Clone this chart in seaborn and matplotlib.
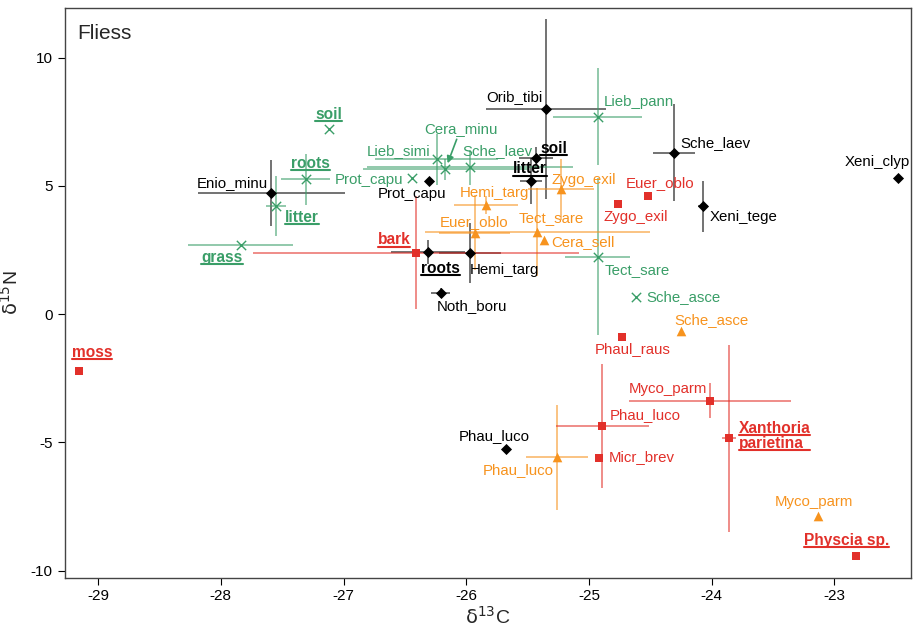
import matplotlib
matplotlib.use("Agg")
import matplotlib.pyplot as plt
from matplotlib.lines import Line2D
import seaborn as sns
import pandas as pd

# --- data (d13C, d15N, errors) per group ---
black_names = ["Orib_tibi", "soil", "litter", "Prot_capu", "Enio_minu", "roots",
               "Hemi_targ", "Noth_boru", "Sche_laev", "Xeni_tege", "Xeni_clyp", "Phau_luco"]
black_x = [-25.35, -25.43, -25.47, -26.30, -27.59, -26.31, -25.97, -26.21, -24.31, -24.07, -22.48, -25.68]
black_y = [8.00, 6.10, 5.19, 5.19, 4.72, 2.42, 2.37, 0.81, 6.30, 4.21, 5.30, -5.27]
black_xerr = [0.49, 0.14, 0.09, 0, 0.60, 0.30, 0.25, 0.08, 0.17, 0.04, 0, 0]
black_yerr = [3.5, 0.4, 0.9, 0, 1.3, 0.48, 1.17, 0.2, 1.9, 1.0, 0, 0]

green_names = ["soil", "roots", "litter", "grass", "Prot_capu", "Lieb_simi", "Cera_minu",
               "Sche_laev", "Lieb_pann", "Tect_sare", "Sche_asce"]
green_x = [-27.12, -27.31, -27.55, -27.84, -26.44, -26.24, -26.17, -25.97, -24.93, -24.93, -24.62]
green_y = [7.22, 5.25, 4.21, 2.69, 5.32, 6.03, 5.64, 5.72, 7.70, 2.24, 0.65]
green_xerr = [0, 0.20, 0.08, 0.425, 0, 0.50, 0.67, 0.84, 0.36, 0.265, 0]
green_yerr = [0, 0.98, 1.16, 0, 0, 1.0, 0.4, 0.67, 1.9, 3.05, 0]

orange_names = ["Hemi_targ", "Zygo_exil", "Euer_oblo", "Tect_sare", "Cera_sell",
                "Sche_asce", "Phau_luco", "Myco_parm"]
orange_x = [-25.84, -25.23, -25.93, -25.42, -25.37, -24.25, -25.26, -23.13]
orange_y = [4.25, 4.86, 3.17, 3.21, 2.89, -0.66, -5.59, -7.88]
orange_xerr = [0.26, 0.27, 0.29, 0.92, 0, 0, 0.25, 0]
orange_yerr = [0.35, 1.2, 1.46, 1.72, 0, 0, 2.05, 0]

red_names = ["moss", "bark", "Euer_oblo", "Zygo_exil", "Phaul_raus", "Myco_parm",
             "Phau_luco", "Micr_brev", "Xanthoria\nparietina", "Physcia sp."]
red_x = [-29.16, -26.41, -24.52, -24.76, -24.73, -24.01, -24.89, -24.92, -23.86, -22.82]
red_y = [-2.22, 2.39, 4.61, 4.28, -0.91, -3.37, -4.37, -5.60, -4.85, -9.44]
red_xerr = [0, 1.33, 0, 0, 0, 0.66, 0.38, 0, 0.06, 0]
red_yerr = [0, 2.2, 0, 0, 0, 0.7, 2.42, 0, 3.63, 0]

# label anchor positions (data coords) and which labels are bold/underlined
black_lab = [(-25.61, 8.46), (-25.29, 6.47), (-25.48, 5.66), (-26.44, 4.68), (-27.91, 5.11),
             (-26.21, 1.79), (-25.69, 1.72), (-25.95, 0.31), (-23.97, 6.67), (-23.74, 3.78),
             (-22.65, 5.93), (-25.77, -4.76)]
green_lab = [(-27.12, 7.80), (-27.27, 5.89), (-27.34, 3.78), (-27.99, 2.22), (-26.79, 5.23),
             (-26.55, 6.37), (-26.04, 7.22), (-25.75, 6.37), (-24.59, 8.27), (-24.61, 1.72),
             (-24.23, 0.65)]
orange_lab = [(-25.77, 4.72), (-25.04, 5.23), (-25.94, 3.60), (-25.31, 3.73), (-25.05, 2.82),
              (-24.00, -0.23), (-25.58, -6.08), (-23.17, -7.34)]
red_lab = [(-29.05, -1.49), (-26.59, 2.89), (-24.42, 5.10), (-24.62, 3.77), (-24.64, -1.37),
           (-24.36, -2.93), (-24.54, -3.94), (-24.57, -5.59), (-23.78, -4.76), (-22.90, -8.81)]
bold_names = {"soil", "litter", "roots", "grass", "moss", "bark",
              "Xanthoria\nparietina", "Physcia sp."}

colors = {"black": "#000000", "green": "#3a9e68", "orange": "#f7931e", "red": "#e2302a"}

groups = [
    ("black", black_names, black_x, black_y, black_xerr, black_yerr, black_lab, "D", 32),
    ("green", green_names, green_x, green_y, green_xerr, green_yerr, green_lab, "x", 45),
    ("orange", orange_names, orange_x, orange_y, orange_xerr, orange_yerr, orange_lab, "^", 48),
    ("red", red_names, red_x, red_y, red_xerr, red_yerr, red_lab, "s", 40),
]

sns.set_theme(style="ticks")
plt.rcParams["font.family"] = ["Liberation Sans", "DejaVu Sans"]
plt.rcParams["axes.unicode_minus"] = False

fig = plt.figure(figsize=(9.16, 6.30), dpi=100)
ax = fig.add_axes([0.071, 0.083, 0.9235, 0.904])

underlined = []
for grp, names, xs, ys, xe, ye, labs, mk, sz in groups:
    c = colors[grp]
    df = pd.DataFrame({"d13C": xs, "d15N": ys, "xerr": xe, "yerr": ye, "name": names})
    ax.errorbar(df["d13C"], df["d15N"], xerr=df["xerr"], yerr=df["yerr"], fmt="none",
                ecolor=c, elinewidth=1.1, alpha=0.7, capsize=0, zorder=2)
    if mk == "x":
        sns.scatterplot(data=df, x="d13C", y="d15N", marker=mk, color=c, s=sz,
                        linewidth=1.0, ax=ax, zorder=3)
    else:
        sns.scatterplot(data=df, x="d13C", y="d15N", marker=mk, color=c, s=sz,
                        linewidth=0, ax=ax, zorder=3)
    for name, (lx, ly) in zip(names, labs):
        bold = name in bold_names
        ha = "left" if name.startswith("Xanthoria") else "center"
        t = ax.text(lx, ly, name, color=c, fontsize=11.2 if bold else 10.8,
                    fontweight="bold" if bold else "normal", ha=ha, va="center",
                    linespacing=1.0, zorder=4)
        if bold:
            underlined.append((t, c))

# arrow from Cera_minu label to its point
ax.annotate("", xy=(-26.16, 5.78), xytext=(-26.07, 6.92),
            arrowprops=dict(arrowstyle="-|>", color=colors["green"], lw=1.2,
                            mutation_scale=10))

ax.text(0.015, 0.955, "Fliess", transform=ax.transAxes, fontsize=15, ha="left", va="center")

ax.set_xlim(-29.27, -22.376)
ax.set_ylim(-10.28, 11.93)
ax.set_xticks([-29, -28, -27, -26, -25, -24, -23])
ax.set_yticks([-10, -5, 0, 5, 10])
ax.set_xlabel(r"$\mathrm{\delta}^{13}$C", fontsize=14, labelpad=2)
ax.set_ylabel(r"$\mathrm{\delta}^{15}$N", fontsize=14, labelpad=6)
ax.tick_params(axis="both", direction="out", length=5, width=0.8, labelsize=11,
               colors="black", pad=3)
ax.tick_params(axis="y", pad=4)
for sp in ax.spines.values():
    sp.set_color("#444444")
    sp.set_linewidth(1.0)

# underline the bold labels using their rendered extent
fig.canvas.draw()
inv = fig.transFigure.inverted()
for t, c in underlined:
    bb = t.get_window_extent()
    (x0, y0), (x1, _) = inv.transform([(bb.x0, bb.y0), (bb.x1, bb.y0)])
    if "\n" in t.get_text():
        h = (bb.y1 - bb.y0) / 2
        for k in range(2):
            yy = inv.transform([(0, bb.y0 + k * h + 1)])[0][1]
            fig.add_artist(Line2D([x0, x1], [yy, yy], color=c, lw=1.5))
    else:
        fig.add_artist(Line2D([x0, x1], [y0 + 0.5 / 630, y0 + 0.5 / 630], color=c, lw=1.5))

fig.savefig("out.png", dpi=100)
